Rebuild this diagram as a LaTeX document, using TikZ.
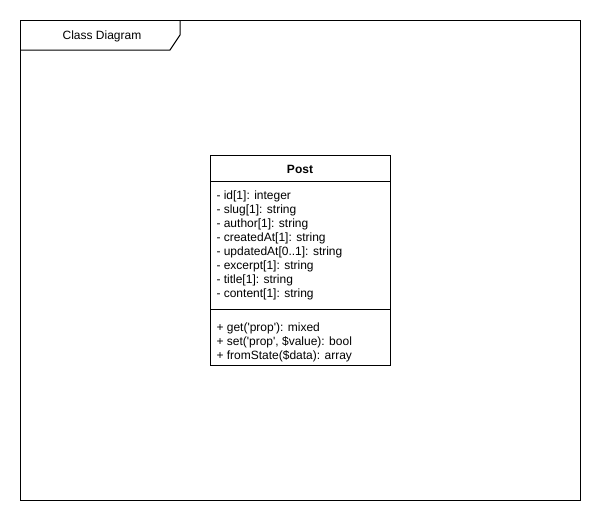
\documentclass[tikz,border=0pt]{standalone}
\usepackage{fontspec}
\setmainfont{Liberation Sans}
\usetikzlibrary{positioning}

\begin{document}
\begin{tikzpicture}[x=0.75pt, y=-0.75pt, line width=0.75pt, every node/.style={font=\fontsize{9}{10.5}\selectfont, inner sep=0pt}, classbox/.style={draw, minimum width=135pt, minimum height=157.5pt}, members/.style={align=left, anchor=west}]
		\useasboundingbox (0,0) rectangle (601,521);
		% Frame with name tab
		\node[draw, minimum width=420pt, minimum height=360pt] (frame) at (300,260) {};
		\draw (180,20) -- (180,35) -- (170,50) -- (20,50);
		\node (tab) at (102,36) {Class Diagram};
		% Class box
		\node[classbox] (post) at (300,260) {};
		\node (name) at (300,169) {\textbf{Post}};
		\draw (210,181) -- (390,181);
		\draw (210,309) -- (390,309);
		% Attributes
		\node[members] (attrs) at (216,245) {- id[1]: integer\\- slug[1]: string\\- author[1]: string\\- createdAt[1]: string\\- updatedAt[0..1]: string\\- excerpt[1]: string\\- title[1]: string\\- content[1]: string};
		% Operations
		\node[members] (ops) at (216,342) {+ get(\textquotesingle prop\textquotesingle): mixed\\+ set(\textquotesingle prop\textquotesingle, \$value): bool\\+ fromState(\$data): array};
	\end{tikzpicture}
\end{document}
